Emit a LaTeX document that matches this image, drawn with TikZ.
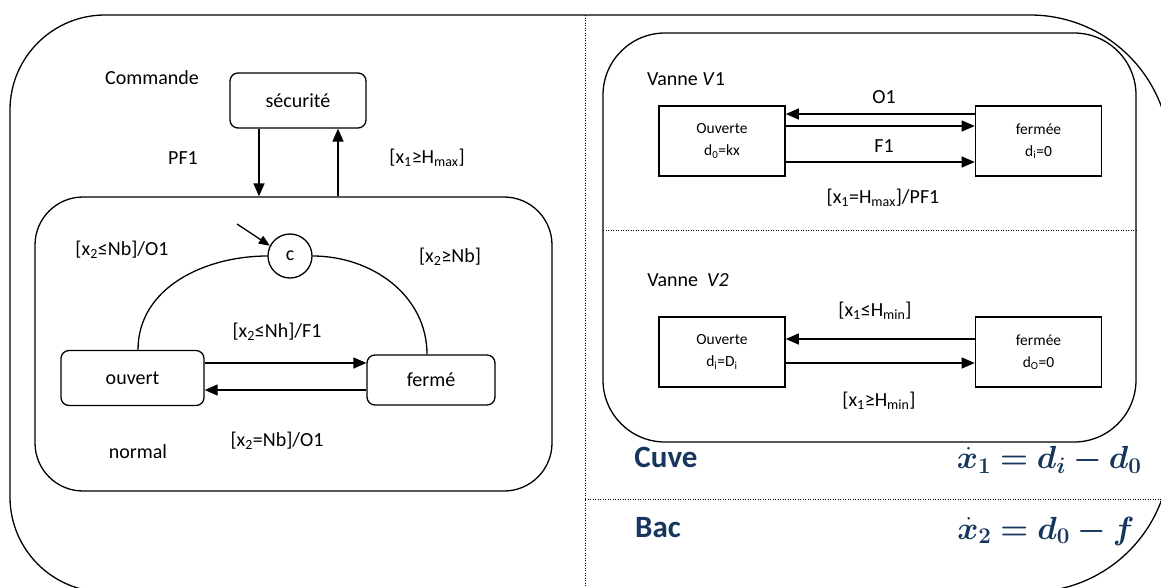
\RequirePackage{fix-cm}
\documentclass[tikz,border=0pt]{standalone}
\usepackage{fontspec}
\setmainfont{Carlito}
\usepackage{amsmath}
\usepackage{bm}
\usepackage{xcolor}
\usepackage{tikz}
\usetikzlibrary{arrows.meta}
\definecolor{titleblue}{RGB}{23,54,93}

\begin{document}
\begin{tikzpicture}[
		x=1pt, y=-1pt,
		every node/.style={font=\fontsize{20}{24}\selectfont},
		state/.style={draw, line width=1.3pt, rounded corners=8pt, minimum width=136pt, minimum height=55pt},
		valve/.style={draw, line width=1.6pt, minimum width=126pt, minimum height=70pt, align=center, font=\fontsize{15.5}{22}\selectfont},
		frame/.style={draw, line width=1.3pt},
		arr/.style={line width=1.3pt, -{Triangle[length=13pt,width=11pt]}},
		sep/.style={line width=0.9pt, dash pattern=on 1pt off 1.5pt},
		big/.style={font=\fontsize{31}{36}\selectfont\bfseries, text=titleblue},
		eq/.style={font=\fontsize{32}{38}\selectfont, text=titleblue}
		]
		\useasboundingbox (0,0) rectangle (1161,587);
		
		% Outer frame and separators
		\draw[frame] (10,300) [rounded corners=95pt] -- (10,15) -- (600,15)
			[rounded corners=140pt] -- (1170,15) -- (1170,592) -- (600,592)
			[rounded corners=95pt] -- (10,592) -- cycle;
		\draw[sep] (585,15) -- (585,587);
		\draw[sep] (585,499) -- (1161,499);
		
		% Commande side
		\node (cmd) at (152,78) {Commande};
		\node[state] (sec) at (298,100.5) {sécurité};
		\node[frame, rounded corners=48pt, minimum width=517pt, minimum height=294pt] (nrm) at (293.5,344) {};
		\node[circle, draw, line width=1.3pt, minimum size=44pt, inner sep=0pt] (cc) at (290,256) {c};
		\node[state, minimum width=143pt] (ouv) at (132.5,378) {ouvert};
		\node[state, minimum width=128pt, minimum height=50pt] (fer) at (431,380) {fermé};
		\coordinate (ini) at (237,224);
		
		\draw[arr] ([xshift=-39pt]sec.south) -- ([xshift=-39pt]sec.south |- nrm.north);
		\draw[arr] ([xshift=40pt]sec.south |- nrm.north) -- ([xshift=40pt]sec.south);
		\draw[line width=1.3pt, -{Triangle[length=11pt,width=9pt]}] (ini) -- (cc.153);
		\draw[line width=1.3pt] ([xshift=5.5pt]ouv.north) to[out=90, in=180] (cc.west);
		\draw[line width=1.3pt] ([xshift=-4pt]fer.north) to[out=90, in=0] (cc.east);
		\draw[arr] ([yshift=15pt]ouv.east) -- ([yshift=15pt]ouv.east -| fer.west);
		\draw[arr] ([yshift=-12pt]ouv.east -| fer.west) -- ([yshift=-12pt]ouv.east);
		
		% Labels, commande side
		\node at (183,158) {PF1};
		\node at (427,158) {[x\textsubscript{1}≥H\textsubscript{max}]};
		\node at (122,250) {[x\textsubscript{2}≤Nb]/O1};
		\node at (450,257) {[x\textsubscript{2}≥Nb]};
		\node at (277,332) {[x\textsubscript{2}≤Nh]/F1};
		\node at (277,441) {[x\textsubscript{2}=Nb]/O1};
		\node at (138,452) {normal};
		
		% Vannes
		\draw[frame, rounded corners=62pt] (603,33) rectangle (1136,442);
		\draw[sep] (603,230) -- (1136,230);
		
		\node at (686,79) {Vanne \textit{V}1};
		\node[valve] (vouv1) at (722,141) {Ouverte\\d\textsubscript{0}=kx};
		\node[valve] (vfer1) at (1038.5,141) {fermée\\d\textsubscript{i}=0};
		\draw[arr] ([yshift=27pt]vfer1.west) -- ([yshift=27pt]vfer1.west -| vouv1.east);
		\draw[arr] ([yshift=15pt]vouv1.east) -- ([yshift=15pt]vouv1.east -| vfer1.west);
		\draw[arr] ([yshift=-21pt]vouv1.east) -- ([yshift=-21pt]vouv1.east -| vfer1.west);
		\node at (884,97) {O1};
		\node at (884,146) {F1};
		\node at (883,198) {[x\textsubscript{1}=H\textsubscript{max}]/PF1};
		
		\node at (688,280) {Vanne\ \ \textit{V2}};
		\node[valve] (vouv2) at (722,352) {Ouverte\\d\textsubscript{i}=D\textsubscript{i}};
		\node[valve] (vfer2) at (1038.5,352) {fermée\\d\textsubscript{O}=0};
		\draw[arr] ([yshift=13pt]vfer2.west) -- ([yshift=13pt]vfer2.west -| vouv2.east);
		\draw[arr] ([yshift=-11pt]vouv2.east) -- ([yshift=-11pt]vouv2.east -| vfer2.west);
		\node at (875,311) {[x\textsubscript{1}≤H\textsubscript{min}]};
		\node at (879,401) {[x\textsubscript{1}≥H\textsubscript{min}]};
		
		% Equations
		\node[big] (cuve) at (666,457) {Cuve};
		\node[eq, anchor=east] (eqc) at (1145,460) {$\bm{\dot{x}_1 = d_i - d_0}$};
		\node[big] (bac) at (658,528) {Bac};
		\node[eq, anchor=east] (eqb) at (1138,531) {$\bm{\dot{x}_2 = d_0 - f}$};
		
	\end{tikzpicture}
\end{document}
